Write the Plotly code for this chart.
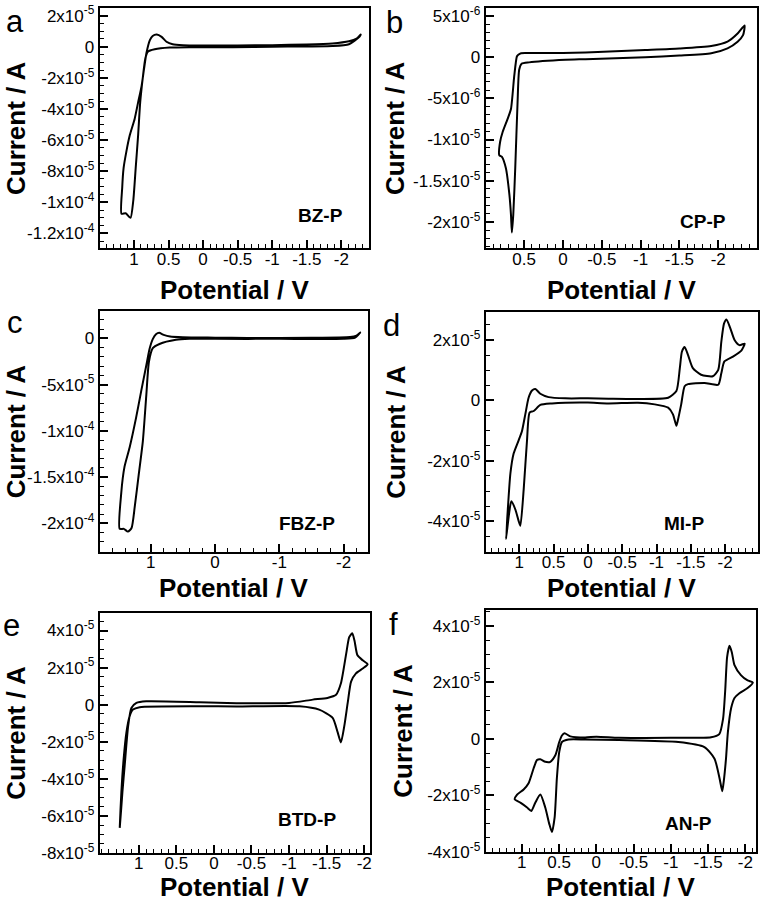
import plotly.graph_objects as go

W, H = 765, 916

# ---- data (potential in V, current in units shown by the tick labels) ----
# a: BZ-P, current / 1e-5 A
a_potential = [-2.28, -2.22, -2.11, -1.87, -1.5, -1.0, -0.5, 0.0, 0.29, 0.44, 0.53, 0.60, 0.67, 0.73,
               0.77, 0.82, 0.856, 0.89, 0.94, 0.99, 1.06, 1.11, 1.15, 1.17, 1.18, 1.12, 1.05, 1.01,
               0.975, 0.94, 0.91, 0.87, 0.835, 0.80, 0.70, 0.485, 0.2, -0.43, -1.0, -1.87, -2.11,
               -2.26, -2.28]
a_current = [0.78, 0.52, 0.35, 0.21, 0.14, 0.10, 0.08, 0.08, 0.10, 0.16, 0.32, 0.63, 0.78, 0.69,
             0.42, -0.42, -1.48, -2.53, -3.58, -4.64, -5.68, -6.74, -7.8, -9.06, -10.74, -10.7, -11.0,
             -9.9, -7.8, -5.7, -3.58, -1.9, -0.74, -0.32, -0.17, -0.06, -0.03, -0.03, 0.0, 0.04, 0.16,
             0.63, 0.78]

# b: CP-P, current / 1e-6 A
b_potential = [-2.34, -2.25, -2.12, -1.91, -1.5, -1.06, -0.6, -0.29, 0.0, 0.45, 0.54, 0.575, 0.594,
               0.628, 0.67, 0.713, 0.777, 0.81, 0.82, 0.786, 0.735, 0.69, 0.67, 0.658, 0.64, 0.615,
               0.585, 0.564, 0.533, 0.436, -0.035, -0.29, -1.06, -1.5, -1.91, -2.12, -2.25, -2.32,
               -2.34]
b_current = [3.86, 2.87, 1.88, 1.35, 1.05, 0.87, 0.7, 0.56, 0.5, 0.5, 0.48, 0.3, 0.08, -2.31, -6.3,
             -7.5, -9.09, -10.3, -11.9, -12.1, -13.5, -16.7, -19.1, -21.3, -19.1, -13.5, -5.5, -1.52,
             -0.8, -0.63, -0.32, -0.24, 0.0, 0.2, 0.48, 1.08, 1.88, 2.67, 3.86]

# c: FBZ-P, current / 1e-5 A
c_potential = [-2.26, -2.2, -2.1, -1.5, -0.5, 0.0, 0.5, 0.70, 0.80, 0.87, 0.92, 0.97, 1.02, 1.07,
               1.15, 1.23, 1.33, 1.41, 1.46, 1.485, 1.42, 1.357, 1.30, 1.25, 1.186, 1.124, 1.07, 1.03,
               0.97, 0.865, 0.61, 0.4, 0.0, -1.0, -2.0, -2.18, -2.26]
c_current = [0.64, 0.3, 0.15, 0.06, 0.05, 0.08, 0.12, 0.2, 0.38, 0.6, 0.45, -0.07, -1.14, -2.9, -5.7,
             -8.6, -11.8, -13.9, -16.7, -20.6, -20.6, -20.9, -20.5, -18.2, -14.6, -11.1, -6.1, -2.55,
             -1.06, -0.6, -0.15, -0.05, -0.05, -0.05, -0.04, 0.1, 0.64]

# d: MI-P, current / 1e-5 A
d_potential = [-2.285, -2.21, -2.14, -2.07, -2.02, -1.984, -1.945, -1.90, -1.82, -1.65, -1.53, -1.46,
               -1.41, -1.37, -1.34, -1.29, -1.17, -0.73, -0.3, 0.0, 0.33, 0.574, 0.694, 0.767, 0.815,
               0.865, 0.913, 0.96, 1.01, 1.083, 1.13, 1.165, 1.194, 1.15, 1.117, 1.058, 1.01, 0.985,
               0.937, 0.888, 0.85, 0.79, 0.694, 0.524, 0.33, 0.0, -0.3, -0.73, -0.975, -1.17, -1.24,
               -1.29, -1.31, -1.36, -1.41, -1.46, -1.70, -1.90, -1.945, -1.99, -2.115, -2.24, -2.285]
d_current = [1.88, 1.83, 1.99, 2.43, 2.68, 2.54, 1.94, 1.01, 0.80, 0.85, 1.07, 1.50, 1.77, 1.61, 1.07,
             0.31, 0.09, 0.05, 0.06, 0.07, 0.07, 0.11, 0.22, 0.38, 0.33, 0.09, -0.46, -1.0, -1.32,
             -1.76, -2.41, -3.5, -4.59, -3.75, -3.34, -3.61, -3.99, -4.15, -2.96, -1.32, -0.40, -0.35,
             -0.15, -0.10, -0.075, -0.07, -0.10, -0.075, -0.13, -0.24, -0.46, -0.84, -0.67, -0.13,
             0.47, 0.54, 0.58, 0.52, 0.90, 1.29, 1.45, 1.66, 1.88]

# e: BTD-P, current / 1e-5 A
e_potential = [-2.045, -1.98, -1.91, -1.87, -1.84, -1.80, -1.76, -1.69, -1.625, -1.51, -1.315, -1.0,
               -0.3, 0.19, 0.9, 1.03, 1.097, 1.14, 1.186, 1.216, 1.252, 1.23, 1.2, 1.163, 1.12, 1.076,
               0.987, 0.19, -0.3, -1.14, -1.40, -1.58, -1.647, -1.69, -1.735, -1.78, -1.825, -1.89,
               -1.98, -2.045]
e_current = [2.18, 2.39, 2.66, 3.46, 3.85, 3.64, 2.75, 1.15, 0.53, 0.36, 0.27, 0.09, 0.08, 0.13, 0.18,
             0.09, -0.18, -1.15, -3.28, -4.7, -6.65, -4.7, -2.93, -1.5, -0.62, -0.27, -0.14, -0.09,
             -0.1, -0.09, -0.27, -0.71, -1.5, -2.04, -1.15, 0.09, 1.24, 1.69, 1.95, 2.18]

# f: AN-P, current / 1e-5 A
f_potential = [-2.10, -2.03, -1.94, -1.854, -1.818, -1.787, -1.755, -1.73, -1.70, -1.65, -1.54, -1.0,
               -0.3, 0.0, 0.15, 0.35, 0.427, 0.462, 0.498, 0.551, 0.618, 0.686, 0.752, 0.797, 0.842,
               0.91, 0.976, 1.064, 1.096, 1.02, 0.93, 0.873, 0.82, 0.752, 0.686, 0.632, 0.596, 0.56,
               0.53, 0.498, 0.462, 0.373, 0.15, -0.3, -1.1, -1.45, -1.586, -1.653, -1.69, -1.71,
               -1.74, -1.765, -1.81, -1.854, -1.92, -2.03, -2.10]
f_current = [2.0, 2.07, 2.26, 2.61, 3.07, 3.3, 2.9, 1.74, 0.7, 0.17, 0.06, 0.04, 0.04, 0.08, 0.05,
             0.09, 0.2, 0.12, -0.11, -0.58, -0.81, -0.81, -0.72, -0.75, -1.04, -1.57, -1.79, -1.97,
             -2.14, -2.26, -2.43, -2.55, -2.26, -1.97, -2.43, -3.01, -3.3, -2.78, -1.39, -0.46, -0.11,
             -0.02, -0.02, -0.04, -0.11, -0.29, -0.7, -1.39, -1.85, -1.5, -0.7, 0.23, 1.1, 1.45, 1.62,
             1.8, 2.0]

# tick labels
x_half_vals = [1, 0.5, 0, -0.5, -1, -1.5, -2]
x_half_text = ["1", "0.5", "0", "-0.5", "-1", "-1.5", "-2"]
b_x_vals = [0.5, 0, -0.5, -1, -1.5, -2]
b_x_text = ["0.5", "0", "-0.5", "-1", "-1.5", "-2"]
c_x_vals = [1, 0, -1, -2]
c_x_text = ["1", "0", "-1", "-2"]

a_y_vals = [2, 0, -2, -4, -6, -8, -10, -12]
a_y_text = ["2x10<sup>-5</sup>", "0", "-2x10<sup>-5</sup>", "-4x10<sup>-5</sup>", "-6x10<sup>-5</sup>",
            "-8x10<sup>-5</sup>", "-1x10<sup>-4</sup>", "-1.2x10<sup>-4</sup>"]
b_y_vals = [5, 0, -5, -10, -15, -20]
b_y_text = ["5x10<sup>-6</sup>", "0", "-5x10<sup>-6</sup>", "-1x10<sup>-5</sup>", "-1.5x10<sup>-5</sup>",
            "-2x10<sup>-5</sup>"]
c_y_vals = [0, -5, -10, -15, -20]
c_y_text = ["0", "-5x10<sup>-5</sup>", "-1x10<sup>-4</sup>", "-1.5x10<sup>-4</sup>", "-2x10<sup>-4</sup>"]
d_y_vals = [2, 0, -2, -4]
d_y_text = ["2x10<sup>-5</sup>", "0", "-2x10<sup>-5</sup>", "-4x10<sup>-5</sup>"]
e_y_vals = [4, 2, 0, -2, -4, -6, -8]
e_y_text = ["4x10<sup>-5</sup>", "2x10<sup>-5</sup>", "0", "-2x10<sup>-5</sup>", "-4x10<sup>-5</sup>",
            "-6x10<sup>-5</sup>", "-8x10<sup>-5</sup>"]
f_y_vals = [4, 2, 0, -2, -4]
f_y_text = ["4x10<sup>-5</sup>", "2x10<sup>-5</sup>", "0", "-2x10<sup>-5</sup>", "-4x10<sup>-5</sup>"]

FONT = "Liberation Sans, Arial, sans-serif"

# box = (left, right, top, bottom) in pixels
panels = [
    dict(letter="a", name="BZ-P", x=a_potential, y=a_current, box=(100, 370, 4, 248),
         xr=[1.495, -2.40], yr=[-12.95, 2.49], xv=x_half_vals, xt=x_half_text, xm=0.1,
         yv=a_y_vals, yt=a_y_text, ym=0.5, letter_xy=(15, 18), name_xy=(321, 215), ytitle_x=16,
         xtitle_y=290),
    dict(letter="b", name="CP-P", x=b_potential, y=b_current, box=(487, 759, 4, 248),
         xr=[0.995, -2.50], yr=[-23.2, 5.98], xv=b_x_vals, xt=b_x_text, xm=0.1,
         yv=b_y_vals, yt=b_y_text, ym=1, letter_xy=(396, 19), name_xy=(705, 221), ytitle_x=396,
         xtitle_y=290),
    dict(letter="c", name="FBZ-P", x=c_potential, y=c_current, box=(100, 369, 312, 556),
         xr=[1.795, -2.38], yr=[-23.05, 2.94], xv=c_x_vals, xt=c_x_text, xm=0.2,
         yv=c_y_vals, yt=c_y_text, ym=1, letter_xy=(15, 323), name_xy=(308, 528), ytitle_x=16,
         xtitle_y=593),
    dict(letter="d", name="MI-P", x=d_potential, y=d_current, box=(487, 760, 313, 556),
         xr=[1.49, -2.48], yr=[-5.0, 2.92], xv=x_half_vals, xt=x_half_text, xm=0.1,
         yv=d_y_vals, yt=d_y_text, ym=0.5, letter_xy=(393, 326), name_xy=(686, 528), ytitle_x=397,
         xtitle_y=593),
    dict(letter="e", name="BTD-P", x=e_potential, y=e_current, box=(100, 371, 618, 862),
         xr=[1.518, -2.077], yr=[-8.0, 4.97], xv=x_half_vals, xt=x_half_text, xm=0.1,
         yv=e_y_vals, yt=e_y_text, ym=0.5, letter_xy=(12, 631), name_xy=(308, 828), ytitle_x=16,
         xtitle_y=897),
    dict(letter="f", name="AN-P", x=f_potential, y=f_current, box=(487, 758, 615, 861),
         xr=[1.485, -2.143], yr=[-4.0, 4.58], xv=x_half_vals, xt=x_half_text, xm=0.1,
         yv=f_y_vals, yt=f_y_text, ym=0.5, letter_xy=(395, 630), name_xy=(690, 832), ytitle_x=404,
         xtitle_y=897),
]


def px_x(px):
    return px / W


def px_y(py):
    return 1 - py / H


def minor_ticks(lo, hi, step):
    lo, hi = min(lo, hi), max(lo, hi)
    k0 = int(lo / step) - 1
    k1 = int(hi / step) + 1
    return [round(k * step, 6) for k in range(k0, k1 + 1) if lo <= k * step <= hi]


fig = go.Figure()
annotations = []
axis_common = dict(
    showline=True, mirror=True, linecolor="black", linewidth=2,
    ticks="inside", ticklen=8, tickwidth=1.5, tickcolor="black",
    showgrid=False, zeroline=False, tickmode="array",
    tickfont=dict(family=FONT, size=17, color="black"),
)

for i, p in enumerate(panels, start=1):
    suffix = "" if i == 1 else str(i)
    left, right, top, bottom = p["box"]
    fig.add_trace(go.Scatter(
        x=p["x"], y=p["y"], mode="lines",
        line=dict(color="black", width=2, shape="spline", smoothing=0.6),
        xaxis="x" + suffix, yaxis="y" + suffix, showlegend=False,
        hoverinfo="skip",
    ))
    fig.update_layout({
        "xaxis" + suffix: dict(
            axis_common, domain=[px_x(left), px_x(right)], range=p["xr"],
            tickvals=p["xv"], ticktext=p["xt"], anchor="y" + suffix, ticklabelstandoff=-6,
            minor=dict(ticks="inside", ticklen=4, tickwidth=1.2, tickcolor="black",
                       tickmode="array", tickvals=minor_ticks(*p["xr"], p["xm"]), showgrid=False),
        ),
        "yaxis" + suffix: dict(
            axis_common, domain=[px_y(bottom), px_y(top)], range=p["yr"],
            tickvals=p["yv"], ticktext=p["yt"], anchor="x" + suffix,
            minor=dict(ticks="inside", ticklen=4, tickwidth=1.2, tickcolor="black",
                       tickmode="array", tickvals=minor_ticks(*p["yr"], p["ym"]), showgrid=False),
        ),
    })
    cx = (left + right) / 2
    cy = (top + bottom) / 2
    annotations += [
        dict(text="<b>Potential / V</b>", x=px_x(cx), y=px_y(p["xtitle_y"]),
             font=dict(family=FONT, size=26, color="black")),
        dict(text="<b>Current / A</b>", x=px_x(p["ytitle_x"]), y=px_y(cy), textangle=-90,
             font=dict(family=FONT, size=26, color="black")),
        dict(text=p["letter"], x=px_x(p["letter_xy"][0]), y=px_y(p["letter_xy"][1]),
             font=dict(family=FONT, size=31, color="black")),
        dict(text="<b>" + p["name"] + "</b>", x=px_x(p["name_xy"][0]), y=px_y(p["name_xy"][1]),
             font=dict(family=FONT, size=19, color="black")),
    ]

for a in annotations:
    a.update(xref="paper", yref="paper", xanchor="center", yanchor="middle", showarrow=False)

fig.update_layout(
    width=W, height=H,
    margin=dict(l=0, r=0, t=0, b=0),
    paper_bgcolor="white", plot_bgcolor="white",
    annotations=annotations,
)

page_fix = ("document.body.style.margin='0';"
            "document.body.style.overflow='hidden';"
            "document.documentElement.style.overflow='hidden';")
fig.write_html("out.html", config={"displayModeBar": False}, post_script=page_fix)
